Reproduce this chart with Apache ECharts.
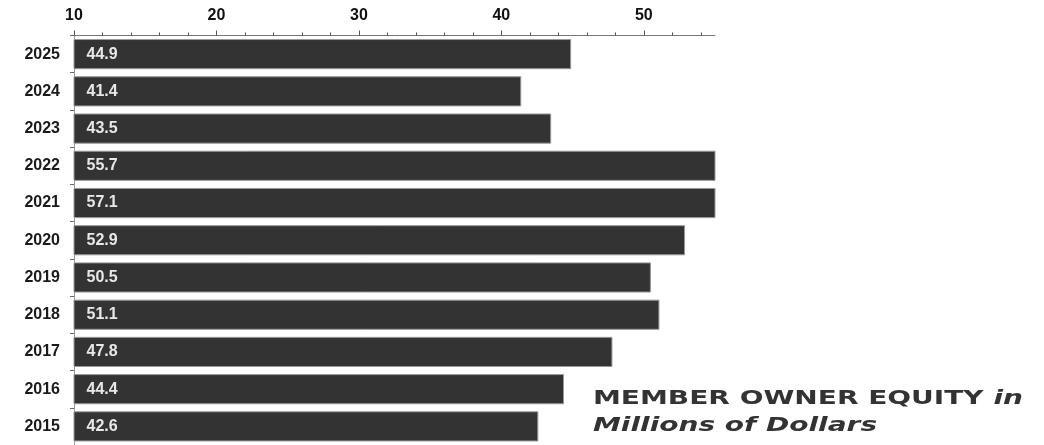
<!DOCTYPE html>
<html><head><meta charset="utf-8">
<script src="https://cdn.jsdelivr.net/npm/echarts@6/dist/echarts.min.js"></script>
<style>html,body{margin:0;padding:0;background:#fff}#c{width:1044px;height:445px}</style>
</head><body><div id="c"></div>
<script>
const years = ['2025','2024','2023','2022','2021','2020','2019','2018','2017','2016','2015'];
const equity = [44.9, 41.4, 43.5, 55.7, 57.1, 52.9, 50.5, 51.1, 47.8, 44.4, 42.6];
const majorTicks = [10, 20, 30, 40, 50];
const minorTicks = [12, 14, 16, 18, 22, 24, 26, 28, 32, 34, 36, 38, 42, 44, 46, 48, 52, 54];
const axisMin = 10, axisMax = 55;

const chart = echarts.init(document.getElementById('c'), null, {renderer: 'canvas'});
chart.setOption({
  animation: false,
  backgroundColor: '#fff',
  grid: {left: 74, width: 641, top: 35.5, height: 414.5, containLabel: false},
  xAxis: [{
    type: 'value', position: 'top', min: axisMin, max: axisMax,
    axisLine: {show: true, lineStyle: {color: '#777', width: 1}},
    axisTick: {show: true, length: 5, inside: false, customValues: majorTicks, lineStyle: {color: '#555'}},
    axisLabel: {show: true, customValues: majorTicks, margin: 12, color: '#111',
      fontFamily: 'Liberation Sans, Arial, sans-serif', fontWeight: 'bold', fontSize: 16},
    splitLine: {show: false}
  }, {
    type: 'value', position: 'top', min: axisMin, max: axisMax,
    axisLine: {show: false},
    axisTick: {show: true, length: 3, inside: false, customValues: minorTicks, lineStyle: {color: '#555'}},
    axisLabel: {show: false},
    splitLine: {show: false}
  }],
  yAxis: {
    type: 'category', data: years, inverse: true,
    axisLine: {show: true, lineStyle: {color: '#999', width: 1}},
    axisTick: {show: true, length: 4, lineStyle: {color: '#666'}},
    axisLabel: {margin: 14, color: '#1a1a1a', fontFamily: 'Liberation Sans, Arial, sans-serif',
      fontWeight: 'bold', fontSize: 16}
  },
  series: [{
    type: 'bar', data: equity, xAxisIndex: 0, barCategoryGap: '19%',
    clip: true,
    itemStyle: {color: '#333333', borderColor: '#999', borderWidth: 1},
    label: {show: true, position: 'insideLeft', distance: 13, color: '#e8e8e8',
      fontFamily: 'Liberation Sans, Arial, sans-serif', fontWeight: 'bold', fontSize: 16,
      formatter: p => p.value.toFixed(1)}
  }],
  graphic: [{
    type: 'text', left: 593, top: 389, scaleX: 1.4, originX: 0,
    style: {
      text: '{a|MEMBER OWNER EQUITY }{b|in}\n{b|Millions of Dollars}',
      fill: '#333',
      rich: {
        a: {fontFamily: 'DejaVu Sans', fontWeight: 'bold', fontSize: 20, lineHeight: 27, fill: '#333'},
        b: {fontFamily: 'DejaVu Sans', fontWeight: 'bold', fontStyle: 'italic', fontSize: 20, lineHeight: 27, fill: '#333'}
      }
    }
  }]
});
</script></body></html>
